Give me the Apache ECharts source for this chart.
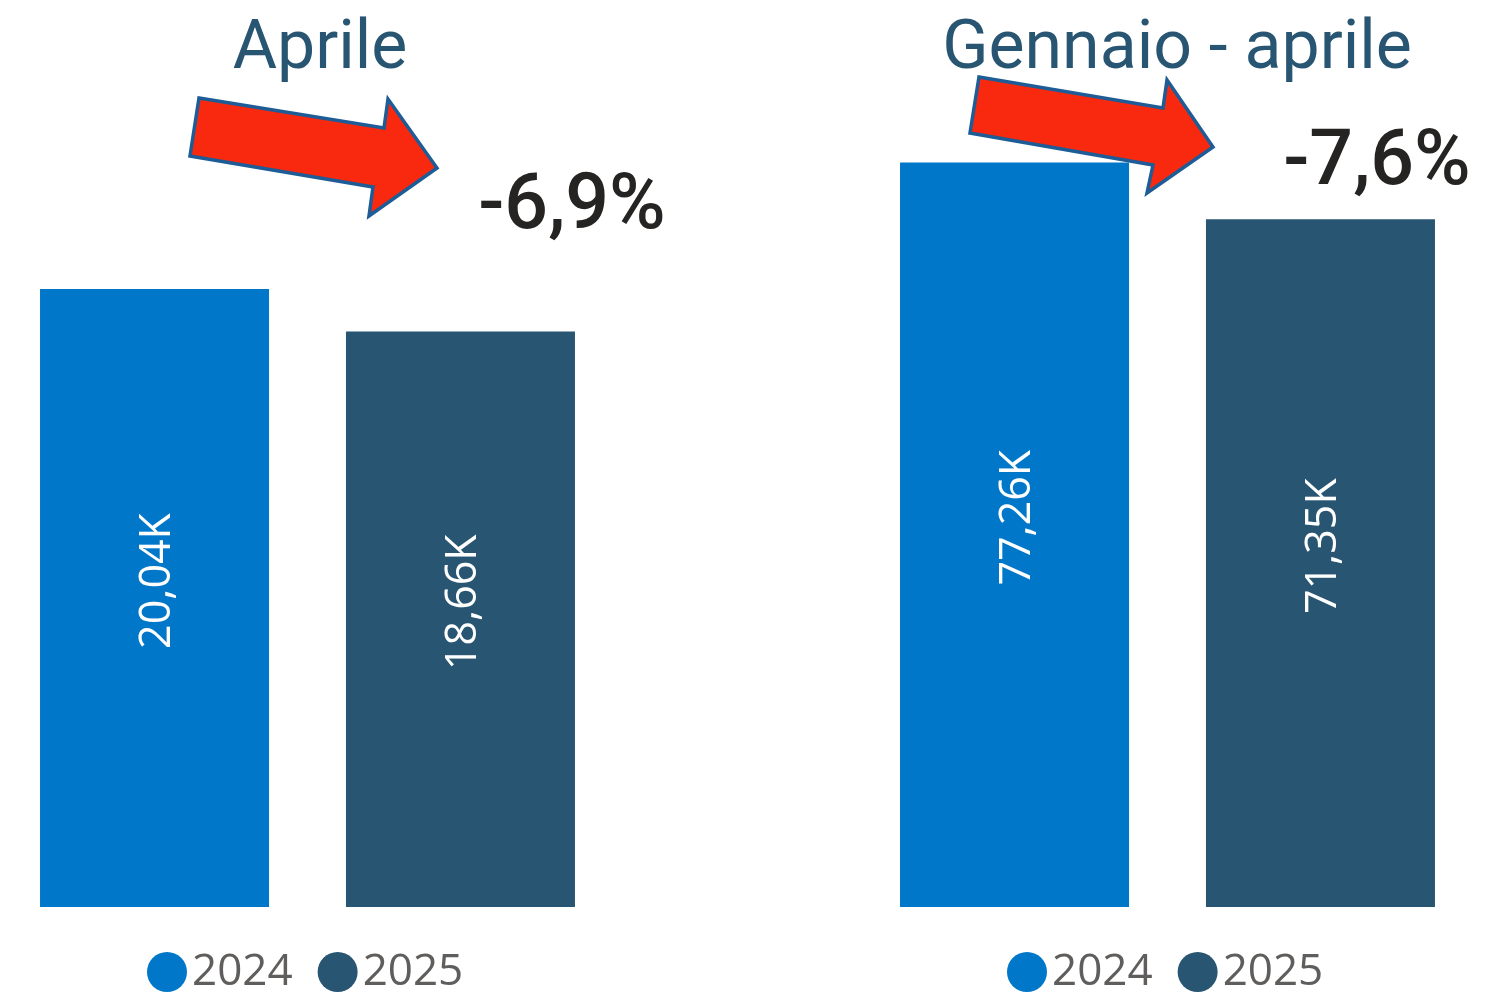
<!DOCTYPE html>
<html>
<head>
<meta charset="utf-8">
<title>Aprile / Gennaio - aprile</title>
<script src="https://cdn.jsdelivr.net/npm/echarts@6/dist/echarts.min.js"></script>
<style>
  html, body { margin: 0; padding: 0; background: #fff; }
  #chart { width: 1512px; height: 1007px; }
</style>
</head>
<body>
<div id="chart"></div>
<script>
// dati (migliaia)
const panels = ['Aprile', 'Gennaio - aprile'];
const years = ['2024', '2025'];
const values2024 = [20.04, 77.26];
const values2025 = [18.66, 71.35];
const changeLabels = ['-6,9%', '-7,6%'];
const axisMax = [25, 80];

const colors = ['#0077C8', '#285572'];
const grids = [{ left: 40 }, { left: 900 }];

const fmtK = v => v.toFixed(2).replace('.', ',') + 'K';

const myChart = echarts.init(document.getElementById('chart'));

const barSeries = (name, value, idx, color) => ({
    name: name,
    type: 'bar',
    xAxisIndex: idx,
    yAxisIndex: idx,
    data: [value],
    barWidth: 229,
    barGap: '33.6%',
    itemStyle: { color: color },
    label: {
        show: true,
        position: 'inside',
        rotate: 90,
        offset: [17, 3], // l'offset ruota con il testo
        color: '#fff',
        fontFamily: 'Open Sans',
        fontSize: 43,
        formatter: p => fmtK(p.value)
    }
});

// frecce rosse (decorazione)
const arrows = [
    [[199, 98], [384, 128], [388, 99], [437, 168], [369, 216], [373, 187], [190, 156]],
    [[979, 77], [1163, 108], [1167, 80], [1213, 147], [1147, 193], [1153, 165], [970, 133]]
];

const titleStyle = { fontFamily: 'Roboto', fontSize: 68, fontWeight: 'normal', color: '#285572' };
const changeStyle = { fontFamily: 'Roboto', fontSize: 77, fontWeight: 500, color: '#252423' };

const option = {
    animation: false,
    title: [
        { text: panels[0], left: 315, top: 12, textAlign: 'center', textStyle: titleStyle },
        { text: panels[1], left: 1172, top: 12, textAlign: 'center', textStyle: titleStyle },
        { text: changeLabels[0], left: 567, top: 165, textAlign: 'center', textStyle: changeStyle },
        { text: changeLabels[1], left: 1372, top: 121, textAlign: 'center', textStyle: changeStyle }
    ],
    legend: grids.map(g => ({
        data: years,
        left: g.left + 107,
        top: 950,
        padding: 0,
        icon: 'circle',
        itemWidth: 40,
        itemHeight: 40,
        itemGap: 25,
        textStyle: { fontFamily: 'Open Sans', fontSize: 44, color: '#605E5C' }
    })),
    grid: grids.map(g => ({ left: g.left, width: 535, top: 136, height: 771 })),
    xAxis: grids.map((g, i) => ({
        type: 'category',
        gridIndex: i,
        data: [panels[i]],
        show: false
    })),
    yAxis: grids.map((g, i) => ({
        type: 'value',
        gridIndex: i,
        min: 0,
        max: axisMax[i],
        show: false,
        splitLine: { show: false }
    })),
    series: [
        barSeries(years[0], values2024[0], 0, colors[0]),
        barSeries(years[1], values2025[0], 0, colors[1]),
        barSeries(years[0], values2024[1], 1, colors[0]),
        barSeries(years[1], values2025[1], 1, colors[1])
    ],
    graphic: arrows.map(pts => ({
        type: 'polygon',
        z: 100,
        shape: { points: pts },
        style: { fill: '#F9290F', stroke: '#1D5C96', lineWidth: 3.5, lineJoin: 'miter' }
    }))
};

myChart.setOption(option);
</script>
</body>
</html>
